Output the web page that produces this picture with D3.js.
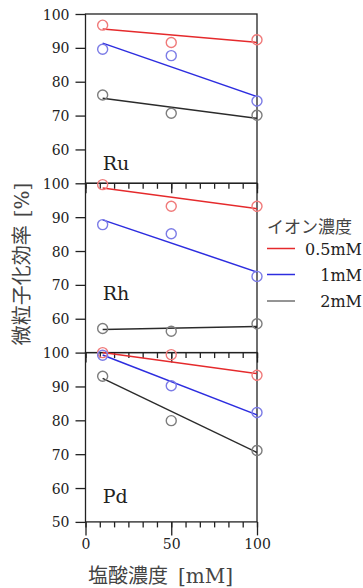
<!DOCTYPE html>
<html>
<head>
<meta charset="utf-8">
<script src="https://cdn.jsdelivr.net/npm/d3@7"></script>
<style>
  html, body { margin: 0; padding: 0; background: #fff; }
  svg { display: block; }
  .tick line { stroke: #222; stroke-width: 1.3; }
</style>
</head>
<body>
<figure id="chart" style="margin:0"></figure>
<script>
// 塩酸濃度 [mM]
const conc = [10, 50, 100]
const fitX = [10, 100]
const ionLabels = ["0.5mM", "1mM", "2mM"]
const metals = ["Ru", "Rh", "Pd"]

// measured points, 0.5mM / 1mM / 2mM
const ru05 = [96.7, 91.6, 92.4]
const ru1 = [89.6, 87.7, 74.3]
const ru2 = [76.1, 70.7, 70.1]
const rh05 = [99.6, 93.2, 93.2]
const rh1 = [87.8, 85.1, 72.5]
const rh2 = [57.1, 56.3, 58.5]
const pd05 = [100.0, 99.4, 93.3]
const pd1 = [99.2, 90.2, 82.3]
const pd2 = [93.0, 79.9, 71.1]

// fitted lines at fitX
const ru05Fit = [95.6, 91.6]
const ru1Fit = [91.4, 75.6]
const ru2Fit = [75.1, 69.2]
const rh05Fit = [98.6, 92.5]
const rh1Fit = [89.2, 73.8]
const rh2Fit = [56.8, 57.7]
const pd05Fit = [100.0, 93.8]
const pd1Fit = [99.3, 81.6]
const pd2Fit = [92.4, 70.5]

const yTicks = [60, 70, 80, 90, 100]
const yTicksLast = [50, 60, 70, 80, 90, 100]
const xMajor = [0, 50, 100]
const xMinor = d3.range(0, 101, 100 / 12)

const lineColors = ["#e52a2c", "#2d2ddf", "#2b2b2b"]
const dotColors = ["#f07a7a", "#7c7ce6", "#7d7d7d"]

const panels = [
  {name: metals[0], obs: [ru05, ru1, ru2], fit: [ru05Fit, ru1Fit, ru2Fit]},
  {name: metals[1], obs: [rh05, rh1, rh2], fit: [rh05Fit, rh1Fit, rh2Fit]},
  {name: metals[2], obs: [pd05, pd1, pd2], fit: [pd05Fit, pd1Fit, pd2Fit]}
]

const width = 363, height = 588
const left = 85.5, right = 257
const panelTop = 14, panelH = 169.3
const serif = "DejaVu Serif, serif"

const svg = d3.select("figure#chart")
  .append("svg")
  .attr("width", width)
  .attr("height", height)

const x = d3.scaleLinear().domain([0, 100]).range([left, right])

const markLayer = []

panels.forEach((p, i) => {
  const top = panelTop + i * panelH
  const y = d3.scaleLinear().domain([50, 100]).range([top + panelH, top])
  const last = i === panels.length - 1

  const g = svg.append("g")

  // frame
  g.append("rect")
    .attr("x", x(0))
    .attr("y", y(100))
    .attr("width", x(100) - x(0))
    .attr("height", y(50) - y(100))
    .attr("fill", "none")
    .attr("stroke", "#222")
    .attr("stroke-width", 1.3)

  // left axis
  const yAxis = d3.axisLeft(y)
    .tickValues(last ? yTicksLast : yTicks)
    .tickSize(10)
    .tickSizeOuter(0)
    .tickPadding(6)
  const ya = g.append("g")
    .attr("transform", `translate(${x(0)},0)`)
    .call(yAxis)
  ya.select(".domain").remove()
  ya.selectAll("text")
    .attr("dy", "0.36em")
    .style("font-family", serif)
    .style("font-size", "14px")
    .attr("fill", "#222")

  // bottom axis, minor + major ticks
  const minorAxis = d3.axisBottom(x).tickValues(xMinor).tickSize(5.5).tickFormat("")
  const ma = g.append("g")
    .attr("transform", `translate(0,${y(50)})`)
    .call(minorAxis)
  ma.select(".domain").remove()

  const majorAxis = d3.axisBottom(x).tickValues(xMajor)
    .tickSize(last ? 13.5 : 10)
    .tickPadding(4)
  if (!last) majorAxis.tickFormat("")
  const mj = g.append("g")
    .attr("transform", `translate(0,${y(50)})`)
    .call(majorAxis)
  mj.select(".domain").remove()
  mj.selectAll("text")
    .style("font-family", serif)
    .style("font-size", "14px")
    .attr("fill", "#222")

  // panel name
  g.append("text")
    .attr("x", x(10))
    .attr("y", y(100) + (i === 0 ? 156 : i === 1 ? 116.5 : 150))
    .style("font-family", serif)
    .style("font-size", "19px")
    .attr("fill", "#222")
    .text(p.name)

  markLayer.push({p: p, y: y})
})

// fitted lines and measured points on top of all frames
markLayer.forEach(({p, y}) => {
  const line = d3.line()
    .x((d, k) => x(fitX[k]))
    .y(d => y(d))

  p.fit.forEach((f, s) => {
    svg.append("path")
      .datum(f)
      .attr("fill", "none")
      .attr("stroke", lineColors[s])
      .attr("stroke-width", 1.5)
      .attr("d", line)
  })

  p.obs.forEach((o, s) => {
    svg.append("g")
      .selectAll("circle")
      .data(o)
      .join("circle")
        .attr("cx", (d, k) => x(conc[k]))
        .attr("cy", d => y(d))
        .attr("r", 5)
        .attr("fill", "none")
        .attr("stroke", dotColors[s])
        .attr("stroke-width", 1.4)
  })
})

// legend
const lg = svg.append("g")
lg.append("text")
  .attr("x", 267)
  .attr("y", 233)
  .style("font-family", "Noto Sans CJK JP")
  .style("font-size", "17px")
  .attr("fill", "#444")
  .text("イオン濃度")

const legendY = [248.5, 274.5, 301]
ionLabels.forEach((lab, s) => {
  lg.append("line")
    .attr("x1", 267).attr("x2", 295)
    .attr("y1", legendY[s]).attr("y2", legendY[s])
    .attr("stroke", lineColors[s])
    .attr("stroke-width", s === 2 ? 1 : 1.5)
  lg.append("text")
    .attr("x", 362)
    .attr("y", legendY[s])
    .attr("dy", "0.38em")
    .attr("text-anchor", "end")
    .style("font-family", serif)
    .style("font-size", "16px")
    .attr("fill", "#222")
    .text(lab)
})

// axis titles
const yt = svg.append("text")
  .attr("transform", "translate(29,264) rotate(-90)")
  .attr("text-anchor", "middle")
  .attr("fill", "#444")
  .style("font-size", "20px")
yt.append("tspan").style("font-family", "Noto Sans CJK JP").text("微粒子化効率")
yt.append("tspan").attr("dx", 8).style("font-family", serif).text("[%]")

const xt = svg.append("text")
  .attr("x", 88)
  .attr("y", 583)
  .attr("fill", "#444")
  .style("font-size", "20px")
xt.append("tspan").style("font-family", "Noto Sans CJK JP").text("塩酸濃度")
xt.append("tspan").attr("dx", 10).style("font-family", serif).text("[mM]")
</script>
</body>
</html>
